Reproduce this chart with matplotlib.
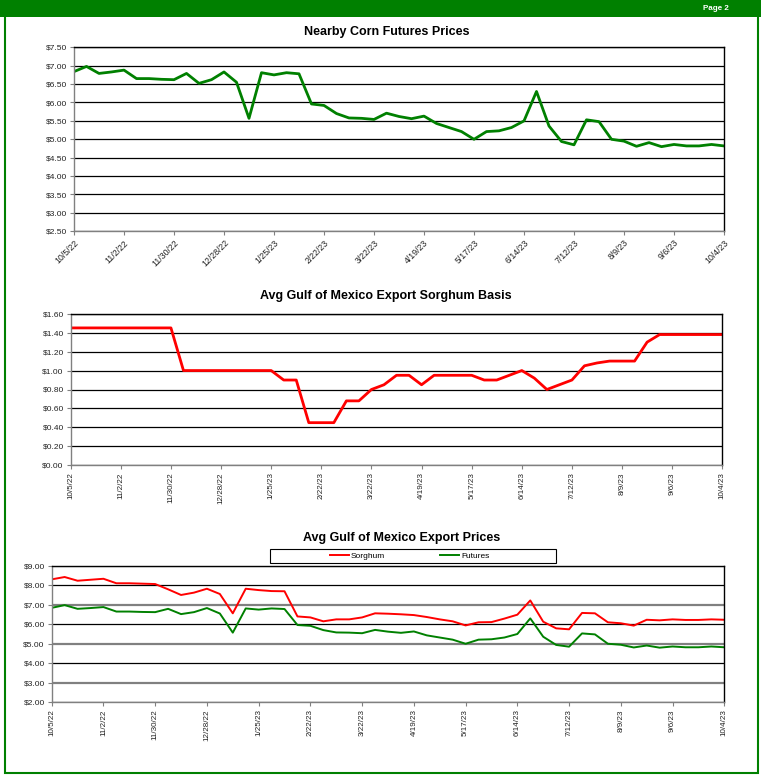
import numpy as np
import matplotlib.pyplot as plt
from matplotlib.patches import Rectangle

plt.rcParams['font.family'] = ['Liberation Sans', 'DejaVu Sans']

# weekly dates, 10/5/22 .. 10/4/23
tick_labels = ["10/5/22", "11/2/22", "11/30/22", "12/28/22", "1/25/23", "2/22/23",
               "3/22/23", "4/19/23", "5/17/23", "6/14/23", "7/12/23", "8/9/23",
               "9/6/23", "10/4/23"]

corn_futures = [6.84, 6.98, 6.79, 6.83, 6.88, 6.65, 6.65, 6.63, 6.62, 6.79,
                6.52, 6.62, 6.83, 6.55, 5.57, 6.81, 6.75, 6.81, 6.78, 5.96,
                5.92, 5.70, 5.58, 5.57, 5.54, 5.71, 5.62, 5.56, 5.63, 5.43,
                5.32, 5.21, 5.00, 5.21, 5.23, 5.32, 5.50, 6.30, 5.36, 4.94,
                4.85, 5.53, 5.48, 5.00, 4.95, 4.81, 4.91, 4.80, 4.86, 4.82,
                4.82, 4.86, 4.82]

sorghum_basis = [1.45, 1.45, 1.45, 1.45, 1.45, 1.45, 1.45, 1.45, 1.45, 1.00,
                 1.00, 1.00, 1.00, 1.00, 1.00, 1.00, 1.00, 0.90, 0.90, 0.45,
                 0.45, 0.45, 0.68, 0.68, 0.80, 0.85, 0.95, 0.95, 0.85, 0.95,
                 0.95, 0.95, 0.95, 0.90, 0.90, 0.95, 1.00, 0.92, 0.80, 0.85,
                 0.90, 1.05, 1.08, 1.10, 1.10, 1.10, 1.30, 1.38, 1.38, 1.38,
                 1.38, 1.38, 1.38]

sorghum_price = [8.30, 8.42, 8.23, 8.28, 8.33, 8.10, 8.10, 8.08, 8.06, 7.79,
                 7.50, 7.62, 7.82, 7.55, 6.56, 7.82, 7.75, 7.70, 7.69, 6.40,
                 6.35, 6.15, 6.25, 6.25, 6.35, 6.56, 6.54, 6.51, 6.47, 6.37,
                 6.25, 6.15, 5.94, 6.10, 6.11, 6.29, 6.49, 7.22, 6.13, 5.79,
                 5.74, 6.58, 6.56, 6.10, 6.05, 5.93, 6.23, 6.20, 6.25, 6.22,
                 6.22, 6.25, 6.23]

GREEN = '#008000'
RED = '#ff0000'
W, H = 761, 775

fig = plt.figure(figsize=(W / 100, H / 100), dpi=100)


def box(l, t, r, b):
    return [l / W, 1 - b / H, (r - l) / W, (b - t) / H]


def style(ax, yticks, rot):
    weeks = np.arange(len(corn_futures))
    ax.set_xlim(weeks[0], weeks[-1])
    ax.set_xticks(weeks[::4])
    if rot == 45:
        ax.set_xticklabels(tick_labels, rotation=45, ha='right',
                           rotation_mode='anchor', fontsize=6.3)
    else:
        ax.set_xticklabels(tick_labels, rotation=90, fontsize=5.8)
    ax.set_ylim(yticks[0], yticks[-1])
    ax.set_yticks(yticks)
    ax.set_yticklabels(['$%.2f' % v for v in yticks], fontsize=6)
    ax.tick_params(length=3, width=0.8, color='#808080', pad=2, labelcolor='#222222')
    ax.grid(axis='y', color='black', lw=0.9)
    ax.set_axisbelow(True)
    for s in ['top', 'right']:
        ax.spines[s].set_color('black')
        ax.spines[s].set_linewidth(1.0)
    for s in ['left', 'bottom']:
        ax.spines[s].set_color('#808080')
        ax.spines[s].set_linewidth(1.0)
    return weeks


# chart 1
ax1 = fig.add_axes(box(74, 47.3, 724, 231.3))
x = style(ax1, np.arange(2.5, 7.51, 0.5), 45)
ax1.plot(x, corn_futures, color=GREEN, lw=2.0)
fig.text(387 / W, 1 - 31.5 / H, "Nearby Corn Futures Prices", ha='center',
         va='center', fontsize=9, fontweight='bold')

# chart 2
ax2 = fig.add_axes(box(70.7, 313.7, 722.3, 465.3))
x = style(ax2, np.arange(0, 1.61, 0.2), 90)
ax2.plot(x, sorghum_basis, color=RED, lw=2.0)
fig.text(386 / W, 1 - 295.7 / H, "Avg Gulf of Mexico Export Sorghum Basis",
         ha='center', va='center', fontsize=9, fontweight='bold')

# chart 3
ax3 = fig.add_axes(box(51.7, 565.7, 724.3, 702.3))
x = style(ax3, np.arange(2, 9.01, 1.0), 90)
for i, gl in enumerate(ax3.get_ygridlines()):
    if i % 2 == 1:
        gl.set_color('#808080')
        gl.set_linewidth(1.6)
ax3.plot(x, sorghum_price, color=RED, lw=1.4, label='Sorghum')
ax3.plot(x, corn_futures, color=GREEN, lw=1.4, label='Futures')
fig.text(401.5 / W, 1 - 538 / H, "Avg Gulf of Mexico Export Prices",
         ha='center', va='center', fontsize=9, fontweight='bold')
fig.patches.append(Rectangle((270 / W, 1 - 563.3 / H), 286 / W, 14 / H,
                             transform=fig.transFigure, facecolor='none',
                             edgecolor='black', lw=0.8))
ax3.legend(ncol=2, loc='center left', bbox_to_anchor=(330 / W, 1 - 556.3 / H),
           bbox_transform=fig.transFigure, fontsize=6, frameon=False,
           handlelength=2.3, handletextpad=0.2, borderpad=0.0,
           borderaxespad=0.0, columnspacing=6.6)

# page frame and header bar
fig.patches.append(Rectangle((0, 1 - 17 / H), 1, 17 / H, transform=fig.transFigure,
                             facecolor=GREEN, edgecolor='none'))
fig.patches.append(Rectangle((4.5 / W, 1 - 772.5 / H), 753.5 / W, 772.5 / H,
                             transform=fig.transFigure, facecolor='none',
                             edgecolor=GREEN, lw=1.5))
fig.text(716 / W, 1 - 8.5 / H, "Page 2", color='white', ha='center', va='center',
         fontsize=5.8, fontweight='bold')

fig.savefig('out.png', dpi=100)
